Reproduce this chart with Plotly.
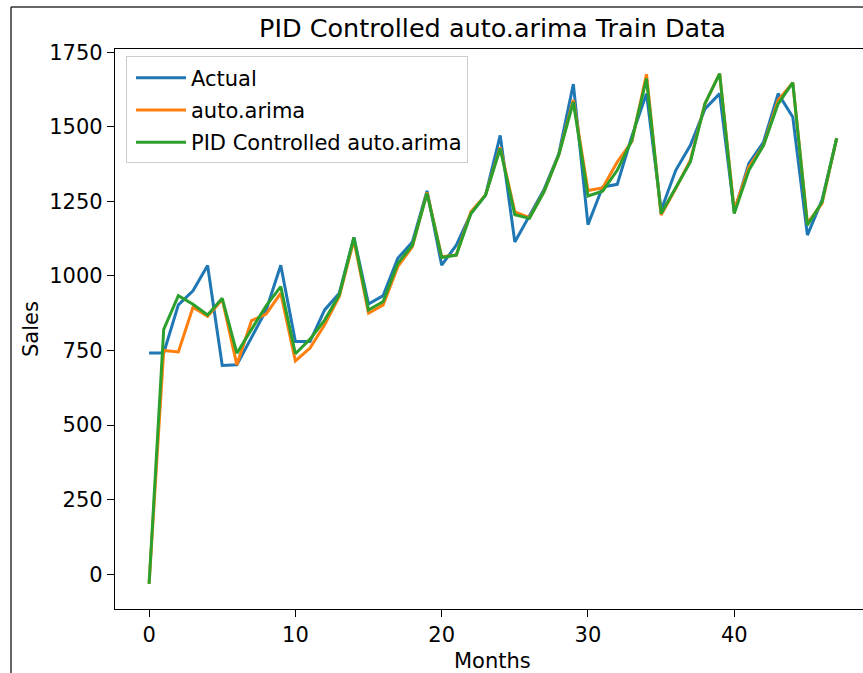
import plotly.graph_objects as go

months = list(range(48))

actual = [742, 742, 903, 950, 1035, 700, 702, 791, 885, 1036, 780, 780, 886, 942,
          1129, 906, 934, 1059, 1114, 1285, 1036, 1103, 1209, 1271, 1471, 1114, 1200,
          1290, 1408, 1643, 1172, 1298, 1307, 1468, 1611, 1220, 1354, 1438, 1560, 1611,
          1215, 1377, 1449, 1611, 1533, 1137, 1254, 1460]

auto_arima = [-32, 750, 745, 895, 865, 921, 702, 850, 872, 942, 715, 758, 836, 931,
              1120, 875, 903, 1031, 1098, 1280, 1064, 1070, 1215, 1271, 1431, 1215, 1195,
              1283, 1405, 1590, 1286, 1295, 1382, 1450, 1676, 1204, 1293, 1388, 1578, 1678,
              1220, 1365, 1438, 1589, 1648, 1176, 1243, 1462]

pid_arima = [-32, 821, 934, 905, 869, 925, 741, 819, 900, 964, 739, 788, 852, 936,
             1129, 886, 914, 1042, 1103, 1277, 1062, 1070, 1209, 1271, 1427, 1205, 1193,
             1283, 1405, 1583, 1268, 1284, 1354, 1455, 1661, 1209, 1297, 1382, 1578, 1678,
             1209, 1354, 1438, 1577, 1648, 1170, 1248, 1462]

series_names = ["Actual", "auto.arima", "PID Controlled auto.arima"]
series_colors = ["#1f77b4", "#ff7f0e", "#2ca02c"]
x_ticks = [0, 10, 20, 30, 40]
y_ticks = [0, 250, 500, 750, 1000, 1250, 1500, 1750]

W, H = 863, 673
L, R, T, B = 115, 0, 48.5, 63.5
PW = W - L - R
PH = H - T - B

def px(xp):
    return (xp - L) / PW

def py(yp):
    return (H - B - yp) / PH

fig = go.Figure()
for i, (name, ys, col) in enumerate(zip(series_names, [actual, auto_arima, pid_arima], series_colors)):
    fig.add_trace(go.Scatter(x=months, y=ys, mode="lines", name=name,
                             legendgroup=str(i),
                             line=dict(color=col, width=3)))

font_family = "DejaVu Sans"

fig.update_layout(
    width=W, height=H,
    margin=dict(l=L, r=R, t=T, b=B, pad=0),
    paper_bgcolor="white", plot_bgcolor="white",
    font=dict(family=font_family, size=21, color="black"),
    showlegend=True,
    legend=dict(x=px(126), y=py(56), xanchor="left", yanchor="top",
                bgcolor="rgba(255,255,255,0.8)", bordercolor="#cccccc", borderwidth=1,
                font=dict(family=font_family, size=21, color="black"),
                itemwidth=50, indentation=4, tracegroupgap=2),
    annotations=[
        dict(text="PID Controlled auto.arima Train Data", xref="paper", yref="paper",
             x=px(492.9), y=py(27), xanchor="center", yanchor="middle", showarrow=False,
             font=dict(size=25.5, family=font_family, color="black")),
        dict(text="Sales", xref="paper", yref="paper", x=px(31), y=py(329),
             xanchor="center", yanchor="middle", textangle=-90, showarrow=False,
             font=dict(size=21, family=font_family, color="black")),
        dict(text="Months", xref="paper", yref="paper", x=px(492.9), y=py(662),
             xanchor="center", yanchor="middle", showarrow=False,
             font=dict(size=21, family=font_family, color="black")),
    ],
    shapes=[
        dict(type="line", xref="paper", yref="paper", x0=px(11), x1=px(11),
             y0=py(6.5), y1=py(680), line=dict(color="#333333", width=1.5)),
        dict(type="line", xref="paper", yref="paper", x0=px(11), x1=px(870),
             y0=py(6.5), y1=py(6.5), line=dict(color="#333333", width=1.5)),
    ],
)

fig.update_xaxes(range=[-2.33, 48.8], tickvals=x_ticks, ticktext=[str(v) for v in x_ticks],
                 showgrid=False, zeroline=False, showline=True, mirror=True,
                 linecolor="black", linewidth=1.3, ticks="outside", ticklen=7,
                 tickwidth=1.3, tickcolor="black",
                 tickfont=dict(size=21, family=font_family, color="black"))
fig.update_yaxes(range=[-116.4, 1760.6], tickvals=y_ticks, ticktext=[str(v) for v in y_ticks],
                 showgrid=False, zeroline=False, showline=True, mirror=False,
                 linecolor="black", linewidth=1.3, ticks="outside", ticklen=7,
                 tickwidth=1.3, tickcolor="black",
                 tickfont=dict(size=21, family=font_family, color="black"))

fig.write_html("out.html")
